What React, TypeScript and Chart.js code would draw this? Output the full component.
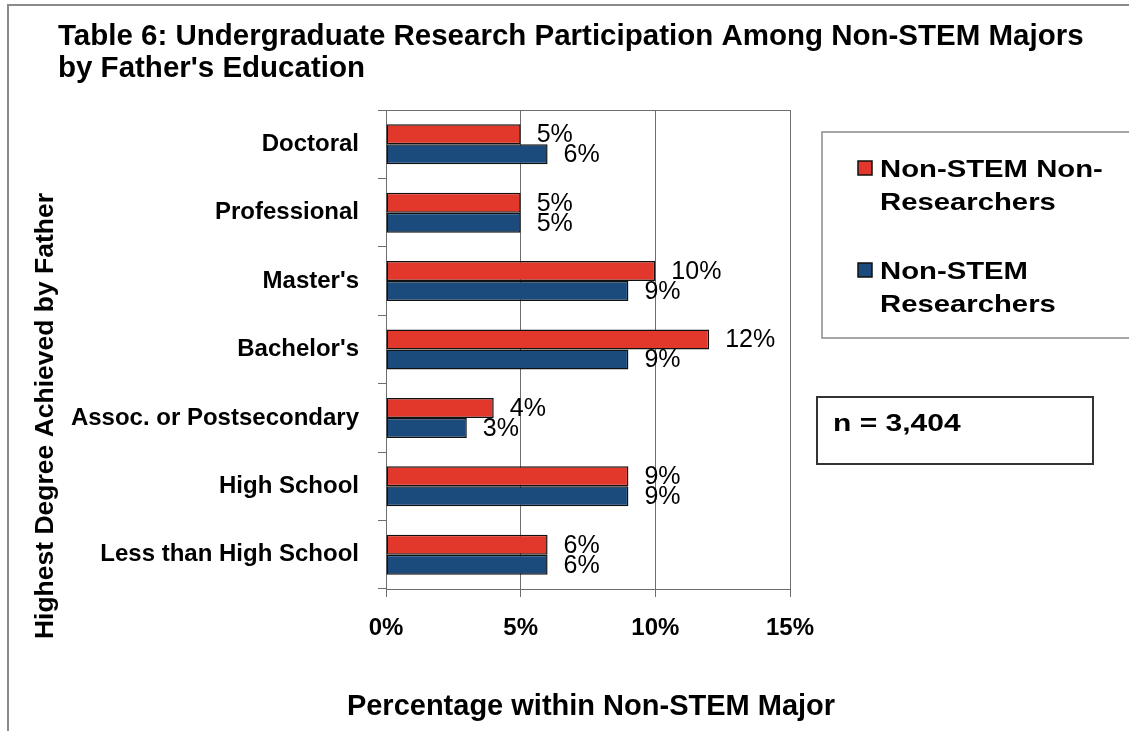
import React, { useEffect, useRef } from "react";
import { Chart, registerables } from "chart.js";

Chart.register(...registerables);

const FONT = '"Liberation Sans", Arial, Helvetica, sans-serif';

const categories = [
  "Doctoral",
  "Professional",
  "Master's",
  "Bachelor's",
  "Assoc. or Postsecondary",
  "High School",
  "Less than High School",
];
const nonResearchers = [5, 5, 10, 12, 4, 9, 6];
const researchers = [6, 5, 9, 9, 3, 9, 6];
const seriesNames = ["Non-STEM Non-Researchers", "Non-STEM Researchers"];
const legendLines = [
  ["Non-STEM Non-", "Researchers"],
  ["Non-STEM", "Researchers"],
];
const titleLines = [
  "Table 6: Undergraduate Research Participation Among Non-STEM Majors",
  "by Father's Education",
];
const xTitle = "Percentage within Non-STEM Major";
const yTitle = "Highest Degree Achieved by Father";
const noteText = "n = 3,404";
const xMin = 0;
const xMax = 15;
const xStep = 5;

const RED = "#E2382C";
const BLUE = "#1B4A7D";
const GRID = "#6e6e6e";

function scaledText(ctx: CanvasRenderingContext2D, text: string, x: number, y: number, sx: number) {
  ctx.save();
  ctx.translate(x, y);
  ctx.scale(sx, 1);
  ctx.fillText(text, 0, 0);
  ctx.restore();
}

const decor = {
  id: "decor",
  afterDatasetsDraw(chart: any) {
    const { ctx, chartArea: a } = chart;
    ctx.save();
    ctx.strokeStyle = GRID;
    ctx.lineWidth = 1;
    ctx.beginPath();
    ctx.moveTo(a.left, a.top + 0.5);
    ctx.lineTo(a.right, a.top + 0.5);
    ctx.stroke();

    ctx.font = `25px ${FONT}`;
    ctx.fillStyle = "#000";
    ctx.textAlign = "left";
    ctx.textBaseline = "middle";
    chart.data.datasets.forEach((ds: any, i: number) => {
      chart.getDatasetMeta(i).data.forEach((el: any, j: number) => {
        ctx.fillText(ds.data[j] + "%", el.x + 16, el.y + 1);
      });
    });
    ctx.restore();
  },
  afterDraw(chart: any) {
    const { ctx } = chart;
    ctx.save();
    // outer frame
    ctx.strokeStyle = "#8a8a8a";
    ctx.lineWidth = 2;
    ctx.strokeRect(8, 5, 1140, 760);

    // title
    ctx.fillStyle = "#000";
    ctx.textAlign = "left";
    ctx.textBaseline = "alphabetic";
    ctx.font = `bold 29.5px ${FONT}`;
    ctx.fillText(titleLines[0], 58, 45);
    ctx.fillText(titleLines[1], 58, 77);

    // x title
    ctx.textAlign = "center";
    ctx.font = `bold 29px ${FONT}`;
    ctx.fillText(xTitle, 591, 715);

    // y title
    ctx.save();
    ctx.translate(53, 416);
    ctx.rotate(-Math.PI / 2);
    ctx.font = `bold 26.5px ${FONT}`;
    ctx.textAlign = "center";
    ctx.fillText(yTitle, 0, 0);
    ctx.restore();

    // legend box
    ctx.strokeStyle = "#8a8a8a";
    ctx.lineWidth = 1.5;
    ctx.strokeRect(822, 132, 320, 206);
    const colors = chart.data.datasets.map((d: any) => d.backgroundColor);
    const sq = [161, 263];
    const base = [
      [177, 210],
      [279, 312],
    ];
    ctx.textAlign = "left";
    ctx.font = `bold 24px ${FONT}`;
    legendLines.forEach((lines, i) => {
      ctx.fillStyle = colors[i];
      ctx.fillRect(858, sq[i], 14, 14);
      ctx.strokeStyle = "#111";
      ctx.lineWidth = 1.5;
      ctx.strokeRect(858, sq[i], 14, 14);
      ctx.fillStyle = "#000";
      lines.forEach((ln, k) => scaledText(ctx, ln, 880, base[i][k], 1.22));
    });

    // n box
    ctx.strokeStyle = "#333";
    ctx.lineWidth = 2;
    ctx.strokeRect(817, 397, 276, 67);
    ctx.fillStyle = "#000";
    ctx.font = `bold 24px ${FONT}`;
    scaledText(ctx, noteText, 833, 431, 1.25);
    ctx.restore();
  },
};

export default function App() {
  const ref = useRef<HTMLCanvasElement>(null);
  useEffect(() => {
    const canvas = ref.current!;
    const chart = new Chart(canvas, {
      type: "bar",
      data: {
        labels: categories,
        datasets: [
          {
            label: seriesNames[0],
            data: nonResearchers,
            backgroundColor: RED,
            borderColor: "#111",
            borderWidth: 1.5,
            borderSkipped: false,
            categoryPercentage: 0.585,
            barPercentage: 1,
          },
          {
            label: seriesNames[1],
            data: researchers,
            backgroundColor: BLUE,
            borderColor: "#111",
            borderWidth: 1.5,
            borderSkipped: false,
            categoryPercentage: 0.585,
            barPercentage: 1,
          },
        ],
      },
      options: {
        indexAxis: "y",
        responsive: false,
        animation: false,
        layout: { padding: { left: 0, top: 110, right: 339, bottom: 0 } },
        plugins: {
          legend: { display: false },
          tooltip: { enabled: false },
          title: { display: false },
        },
        scales: {
          x: {
            min: xMin,
            max: xMax,
            ticks: {
              stepSize: xStep,
              callback: (v: any) => v + "%",
              font: { family: FONT, size: 24, weight: "bold" },
              color: "#000",
              padding: 17,
              maxRotation: 0,
            },
            grid: { color: GRID, tickLength: 8, lineWidth: 1 },
            border: { color: GRID, width: 1 },
            afterFit: (s: any) => {
              s.height = 142;
            },
          },
          y: {
            ticks: {
              font: { family: FONT, size: 24, weight: "bold" },
              color: "#000",
              padding: 19,
            },
            grid: { drawOnChartArea: false, tickLength: 8, color: GRID, offset: true },
            border: { color: GRID, width: 1 },
            afterFit: (s: any) => {
              s.width = 386;
            },
          },
        },
      } as any,
      plugins: [decor],
    });
    return () => chart.destroy();
  }, []);
  return (
    <div style={{ position: "absolute", left: 0, top: 0, width: 1129, height: 731, background: "#fff", overflow: "hidden" }}>
      <canvas ref={ref} width={1129} height={731} style={{ display: "block" }} />
    </div>
  );
}
